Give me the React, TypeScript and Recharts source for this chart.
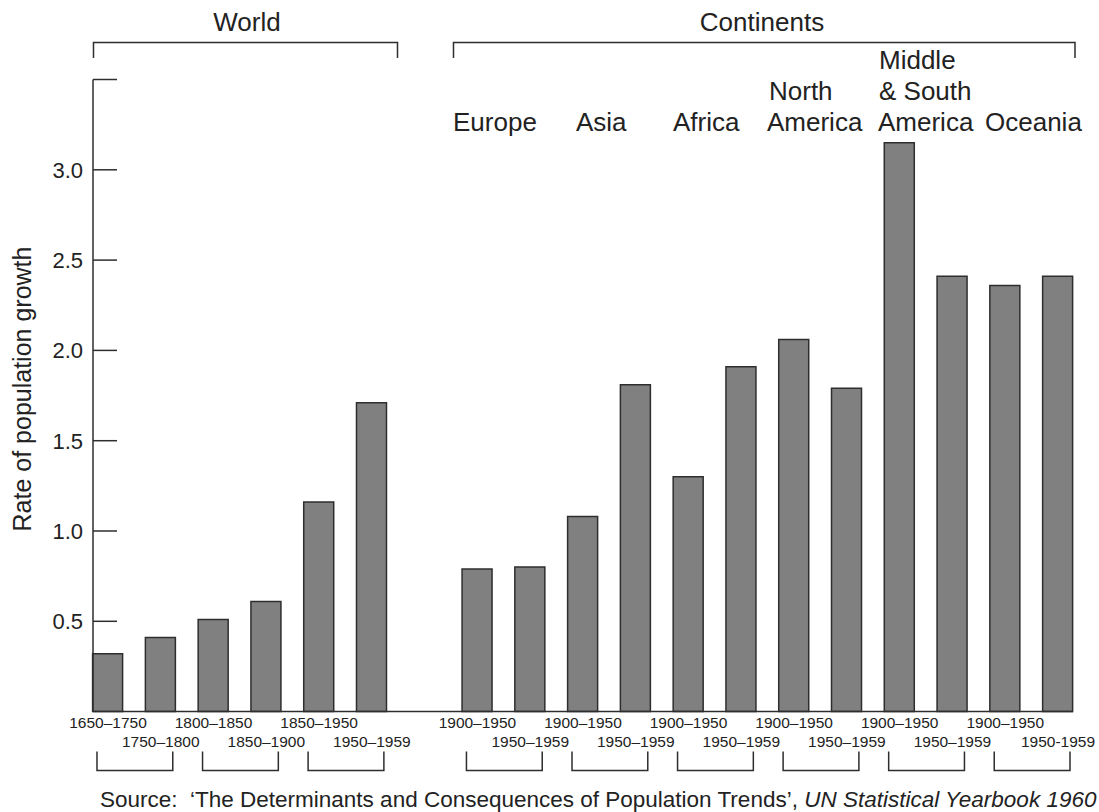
import { BarChart, Bar, XAxis, YAxis } from 'recharts'

// ─── Data ────────────────────────────────────────────────────────────

const worldPeriods = ['1650–1750', '1750–1800', '1800–1850', '1850–1900', '1850–1950', '1950–1959']
const worldRates = [0.32, 0.41, 0.51, 0.61, 1.16, 1.71]

const continentPeriods = [
    '1900–1950', '1950–1959', // Europe
    '1900–1950', '1950–1959', // Asia
    '1900–1950', '1950–1959', // Africa
    '1900–1950', '1950–1959', // North America
    '1900–1950', '1950–1959', // Middle & South America
    '1900–1950', '1950-1959', // Oceania
]
const continentRates = [0.79, 0.8, 1.08, 1.81, 1.3, 1.91, 2.06, 1.79, 3.15, 2.41, 2.36, 2.41]

const yTicks = [0.5, 1.0, 1.5, 2.0, 2.5, 3.0, 3.5]

// ─── Layout ──────────────────────────────────────────────────────────

const W = 1099
const H = 812
const PLOT_LEFT = 93
const PLOT_RIGHT = 1073
const EDGE_PAD = 11.4
const SLOTS = 19
const BAND = (PLOT_RIGHT - PLOT_LEFT + 2 * EDGE_PAD) / SLOTS

const FONT = '"Liberation Sans", Arial, Helvetica, sans-serif'
const INK = '#222'
const LINE = '#2e2e2e'

type Row = { id: string; label: string; rate: number | null; lower: boolean; pairStart: boolean }

const rows: Row[] = [
    ...worldPeriods.map((label, i) => ({ id: `w${i}`, label, rate: worldRates[i], lower: i % 2 === 1, pairStart: i % 2 === 0 })),
    { id: 'gap', label: '', rate: null, lower: false, pairStart: false },
    ...continentPeriods.map((label, i) => ({ id: `c${i}`, label, rate: continentRates[i], lower: i % 2 === 1, pairStart: i % 2 === 0 })),
]

const rowById = new Map(rows.map((r) => [r.id, r]))

// ─── Ticks ───────────────────────────────────────────────────────────

function PeriodTick({ x, y, payload }: any) {
    const row = rowById.get(payload.value)
    if (!row || !row.label) return null
    return (
        <g>
            <text x={x} y={y + (row.lower ? 35 : 16)} textAnchor="middle" fontSize={15.5} fontFamily={FONT} fill={INK}>
                {row.label}
            </text>
            {row.pairStart && (
                <path
                    d={`M${x - 11} ${y + 40} V${y + 59} H${x + BAND + 12} V${y + 40}`}
                    fill="none"
                    stroke={LINE}
                    strokeWidth={1.5}
                />
            )}
        </g>
    )
}

function RateTick({ x, y, payload }: any) {
    const v = payload.value as number
    return (
        <g>
            <line x1={x} x2={x + 24} y1={y} y2={y} stroke={LINE} strokeWidth={1.5} />
            {v < 3.5 && (
                <text x={x - 10} y={y + 8} textAnchor="end" fontSize={22} fontFamily={FONT} fill={INK}>
                    {v.toFixed(1)}
                </text>
            )}
        </g>
    )
}

// ─── Overlay text ────────────────────────────────────────────────────

const labelStyle = { fontSize: 26, fontFamily: FONT, fill: INK }

function Annotations() {
    return (
        <svg width={W} height={H} style={{ position: 'absolute', left: 0, top: 0, pointerEvents: 'none' }}>
            <text x={247} y={30.5} textAnchor="middle" {...labelStyle}>World</text>
            <path d="M93.5 58 V42.5 H397.5 V58" fill="none" stroke={LINE} strokeWidth={1.5} />
            <text x={762} y={30.5} textAnchor="middle" {...labelStyle}>Continents</text>
            <path d="M453.5 58 V42.5 H1075 V58" fill="none" stroke={LINE} strokeWidth={1.5} />

            <text x={453} y={131} {...labelStyle}>Europe</text>
            <text x={576} y={131} {...labelStyle}>Asia</text>
            <text x={673} y={131} {...labelStyle}>Africa</text>
            <text x={769} y={100} {...labelStyle}>North</text>
            <text x={767} y={131} {...labelStyle}>America</text>
            <text x={879} y={69} {...labelStyle}>Middle</text>
            <text x={879} y={100} {...labelStyle}>&amp; South</text>
            <text x={878} y={131} {...labelStyle}>America</text>
            <text x={985} y={131} {...labelStyle}>Oceania</text>

            <text
                transform="translate(31 389) rotate(-90)"
                textAnchor="middle"
                fontSize={25}
                fontFamily={FONT}
                fill={INK}
            >
                Rate of population growth
            </text>

            <text x={100} y={806.7} fontSize={22.5} fontFamily={FONT} fill={INK} style={{ whiteSpace: 'pre' }}>
                {'Source:  ‘The Determinants and Consequences of Population Trends’, '}
                <tspan fontStyle="italic">UN Statistical Yearbook 1960</tspan>
            </text>
        </svg>
    )
}

// ─── Chart ───────────────────────────────────────────────────────────

export default function App() {
    return (
        <div style={{ position: 'absolute', left: 0, top: 0, width: W, height: H, background: '#fff' }}>
            <BarChart
                width={W}
                height={H}
                data={rows}
                margin={{ top: 79.5, right: W - PLOT_RIGHT, bottom: 40.4, left: 0 }}
                barSize={30}
            >
                <XAxis
                    dataKey="id"
                    interval={0}
                    height={60}
                    padding={{ left: -EDGE_PAD, right: -EDGE_PAD }}
                    axisLine={{ stroke: LINE, strokeWidth: 1.5 }}
                    tickLine={false}
                    tickSize={0}
                    tickMargin={0}
                    tick={<PeriodTick />}
                />
                <YAxis
                    width={PLOT_LEFT}
                    domain={[0, 3.5]}
                    ticks={yTicks}
                    axisLine={{ stroke: LINE, strokeWidth: 1.5 }}
                    tickLine={false}
                    tickSize={0}
                    tickMargin={0}
                    tick={<RateTick />}
                />
                <Bar dataKey="rate" fill="#808080" stroke={LINE} strokeWidth={1.5} isAnimationActive={false} />
            </BarChart>
            <Annotations />
        </div>
    )
}
